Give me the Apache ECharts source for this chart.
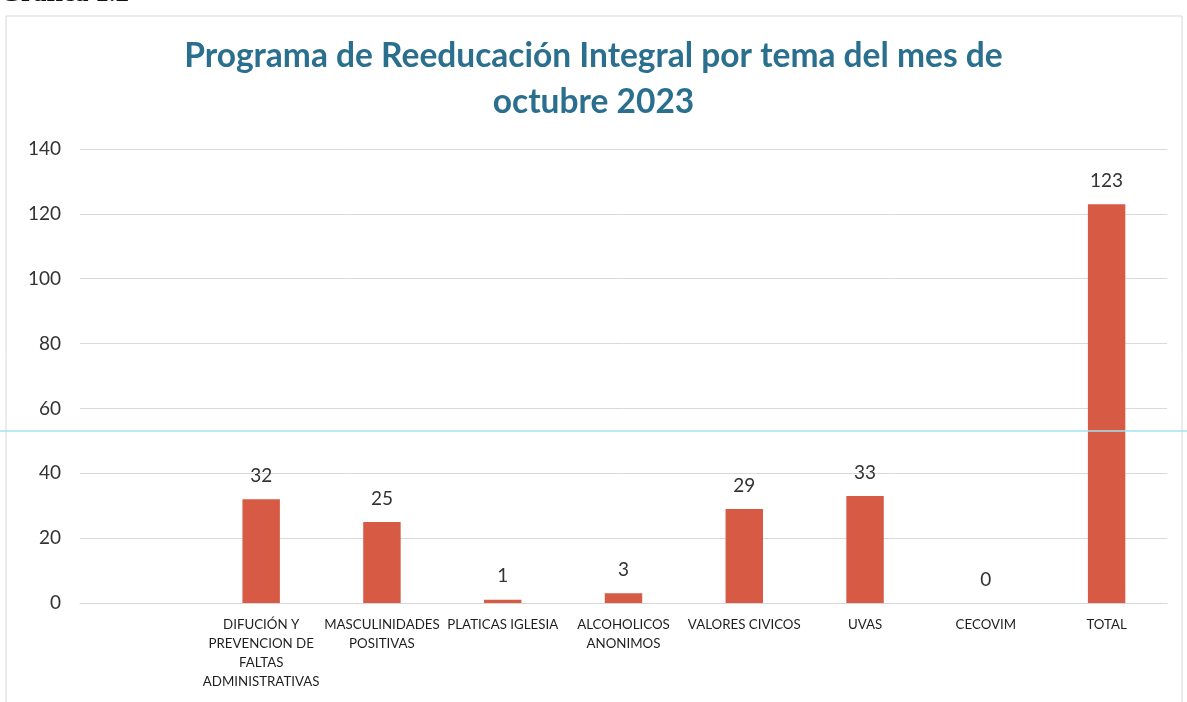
<!DOCTYPE html>
<html>
<head>
<meta charset="utf-8">
<script src="https://cdn.jsdelivr.net/npm/echarts@6/dist/echarts.min.js"></script>
<style>
html,body{margin:0;padding:0;background:#fff;}
#chart{width:1187px;height:702px;}
</style>
</head>
<body>
<div id="chart"></div>
<script>
const titleText = 'Programa de Reeducación Integral por tema del mes de\noctubre 2023';
const categories = [
  '',
  'DIFUCIÓN Y\nPREVENCION DE\nFALTAS\nADMINISTRATIVAS',
  'MASCULINIDADES\nPOSITIVAS',
  'PLATICAS IGLESIA',
  'ALCOHOLICOS\nANONIMOS',
  'VALORES CIVICOS',
  'UVAS',
  'CECOVIM',
  'TOTAL'
];
const values = [null, 32, 25, 1, 3, 29, 33, 0, 123];
const yTicks = {min: 0, max: 140, interval: 20};

const chart = echarts.init(document.getElementById('chart'), null, {renderer: 'canvas'});
chart.setOption({
  backgroundColor: '#ffffff',
  animation: false,
  title: {
    text: titleText,
    left: 'center',
    top: 28,
    textStyle: {
      fontFamily: 'Lato, "Open Sans", sans-serif',
      fontWeight: 'bold',
      fontSize: 33.5,
      lineHeight: 46,
      color: '#2b6f8f'
    }
  },
  grid: {left: 80, right: 20, top: 149, bottom: 99, containLabel: false},
  xAxis: {
    type: 'category',
    data: categories,
    axisLine: {show: true, lineStyle: {color: '#d6d6d6', width: 1}},
    axisTick: {show: false},
    axisLabel: {
      interval: 0,
      margin: 12,
      fontFamily: 'Lato, "Open Sans", sans-serif',
      fontSize: 13.3,
      lineHeight: 19,
      color: '#1e1e1e'
    }
  },
  yAxis: {
    type: 'value',
    min: yTicks.min,
    max: yTicks.max,
    interval: yTicks.interval,
    axisLine: {show: false},
    axisTick: {show: false},
    splitLine: {lineStyle: {color: '#d9d9d9', width: 1}},
    axisLabel: {
      margin: 19,
      fontFamily: 'Lato, "Open Sans", sans-serif',
      fontSize: 19,
      color: '#333333'
    }
  },
  series: [{
    type: 'bar',
    data: values,
    barWidth: '31%',
    itemStyle: {color: '#d65a44'},
    label: {
      show: true,
      position: 'top',
      distance: 14,
      fontFamily: 'Lato, "Open Sans", sans-serif',
      fontSize: 19,
      color: '#333333'
    }
  }],
  graphic: [
    {type: 'rect', shape: {x: 6, y: 16, width: 1176, height: 690}, style: {fill: 'none', stroke: '#d8d8d8', lineWidth: 1}, silent: true, z: -1},
    {type: 'text', left: 0, top: -19, style: {text: 'Gráfica 1.2', font: 'bold 27px "Liberation Serif", serif', fill: '#111'}},
    {type: 'line', shape: {x1: 0, y1: 431, x2: 1187, y2: 431}, style: {stroke: '#9fe3f2', lineWidth: 1.5}, silent: true, z: 10}
  ]
});
</script>
</body>
</html>
